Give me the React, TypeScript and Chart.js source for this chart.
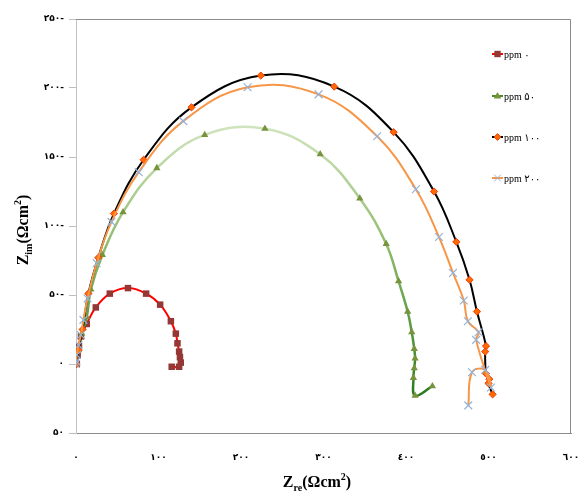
import { useEffect, useRef } from 'react';
import { Chart, registerables } from 'chart.js';

Chart.register(...registerables);

const seriesNames = ['ppm ۰', 'ppm ۵۰', 'ppm ۱۰۰', 'ppm ۲۰۰'];

const ppm0X = [1, 2, 3.6, 6, 13, 24, 41, 63, 85, 102, 115, 121, 123, 125, 126, 127, 125, 116];
const ppm0Y = [0, 6, 13, 20, 29, 41, 51, 55, 51, 43, 31, 22, 15, 9, 5, 1, -2, -2];

const ppm50X = [0.5, 3, 7, 13, 18, 32, 57, 98, 156, 229, 296, 344, 376, 391, 402, 407, 410, 411, 410, 409, 411, 432];
const ppm50Y = [0, 10, 22, 34, 54, 79, 110, 142, 166, 170.5, 152, 120, 87, 60, 38, 23, 11, 4, -3, -10, -23, -16];

const ppm100X = [0.5, 3, 8, 15, 27, 46, 82, 140, 224, 313, 385, 434, 461, 477, 486, 497, 496, 497, 501, 500, 505];
const ppm100Y = [0, 10, 25, 51, 77, 109, 148, 186, 209, 201, 168, 125, 88.5, 61, 38, 13, 9, -7, -11, -14, -22];

const ppm200X = [0, 0.5, 1, 3, 6, 9, 14, 25, 43, 76, 130, 208, 294, 365, 412, 440, 457, 470, 475, 488, 485, 503, 496, 480, 475.5];
const ppm200Y = [0, 2, 6.5, 13.7, 21, 32, 47.5, 73, 103, 139, 176, 200.5, 195.4, 165, 126.6, 92, 66, 46, 31, 23, 17.5, -17, -4.3, -6, -30];

const xTickLabels = ['۰', '۱۰۰', '۲۰۰', '۳۰۰', '٤٠٠', '٥٠٠', '٦٠٠'];
const yTickLabels = ['۵۰', '۰', '۵۰-', '۱۰۰-', '۱۵۰-', '۲۰۰-', '۲۵۰-'];

const xTitle = { main: 'Z', sub: 're', rest: '(Ωcm', sup: '2', end: ')' };
const yTitle = { main: 'Z', sub: 'im', rest: '(Ωcm', sup: '2', end: ')' };

const zip = (xs: number[], ys: number[]) => xs.map((x, i) => ({ x, y: ys[i] }));

type MarkerStyle = { style: string; r: number; fill: string; stroke: string; line: string };
const markers: MarkerStyle[] = [
  { style: 'rect', r: 3.2, fill: '#953735', stroke: '#953735', line: '#ff0000' },
  { style: 'triangle', r: 4, fill: '#77933c', stroke: '#77933c', line: '#4f8a2c' },
  { style: 'rectRot', r: 3.4, fill: '#ff6a00', stroke: '#f03c0c', line: '#000000' },
  { style: 'crossRot', r: 4.5, fill: '#95b3d7', stroke: '#95b3d7', line: '#f79646' },
];

function drawMarker(ctx: CanvasRenderingContext2D, m: MarkerStyle, x: number, y: number) {
  ctx.save();
  ctx.fillStyle = m.fill;
  ctx.strokeStyle = m.stroke;
  ctx.lineWidth = 1;
  ctx.beginPath();
  if (m.style === 'rect') {
    ctx.rect(x - m.r, y - m.r, 2 * m.r, 2 * m.r);
    ctx.fill();
  } else if (m.style === 'triangle') {
    ctx.moveTo(x, y - m.r);
    ctx.lineTo(x + m.r * 0.95, y + m.r * 0.6);
    ctx.lineTo(x - m.r * 0.95, y + m.r * 0.6);
    ctx.closePath();
    ctx.fill();
  } else if (m.style === 'rectRot') {
    ctx.moveTo(x, y - m.r);
    ctx.lineTo(x + m.r, y);
    ctx.lineTo(x, y + m.r);
    ctx.lineTo(x - m.r, y);
    ctx.closePath();
    ctx.fill();
    ctx.stroke();
  } else {
    const d = m.r * 0.75;
    ctx.moveTo(x - d, y - d);
    ctx.lineTo(x + d, y + d);
    ctx.moveTo(x + d, y - d);
    ctx.lineTo(x - d, y + d);
    ctx.stroke();
  }
  ctx.restore();
}

function drawRich(ctx: CanvasRenderingContext2D, t: typeof xTitle, cx: number, baseline: number) {
  const big = "bold 16px 'Liberation Serif', 'Times New Roman', serif";
  const small = "bold 10px 'Liberation Serif', 'Times New Roman', serif";
  const parts = [
    { s: t.main, f: big, dy: 0 },
    { s: t.sub, f: small, dy: 4 },
    { s: t.rest, f: big, dy: 0 },
    { s: t.sup, f: small, dy: -7 },
    { s: t.end, f: big, dy: 0 },
  ];
  let w = 0;
  for (const p of parts) {
    ctx.font = p.f;
    w += ctx.measureText(p.s).width;
  }
  let x = cx - w / 2;
  ctx.fillStyle = '#000';
  ctx.textBaseline = 'alphabetic';
  ctx.textAlign = 'left';
  for (const p of parts) {
    ctx.font = p.f;
    ctx.fillText(p.s, x, baseline + p.dy);
    x += ctx.measureText(p.s).width;
  }
}

const decorPlugin = {
  id: 'decor',
  afterDraw(chart: any) {
    const { ctx, chartArea } = chart;
    const { left, top, right, bottom } = chartArea;
    ctx.save();
    ctx.strokeStyle = '#8c8c8c';
    ctx.lineWidth = 1;
    ctx.beginPath();
    ctx.moveTo(left, top + 0.5);
    ctx.lineTo(right - 0.5, top + 0.5);
    ctx.lineTo(right - 0.5, bottom);
    ctx.stroke();

    const legendY = [54, 96, 137, 178];
    seriesNames.forEach((name, i) => {
      const y = legendY[i];
      const m = markers[i];
      ctx.strokeStyle = m.line;
      ctx.lineWidth = 2;
      ctx.beginPath();
      ctx.moveTo(492, y);
      ctx.lineTo(503, y);
      ctx.stroke();
      drawMarker(ctx, m, 497.5, y);
      ctx.fillStyle = '#000';
      ctx.font = "10px 'Liberation Serif', 'DejaVu Sans', serif";
      ctx.textAlign = 'left';
      ctx.textBaseline = 'middle';
      ctx.fillText(name, 504, y + 1);
    });

    drawRich(ctx, xTitle, 317, 487);
    ctx.save();
    ctx.translate(28, 230);
    ctx.rotate(-Math.PI / 2);
    drawRich(ctx, yTitle, 0, 0);
    ctx.restore();
    ctx.restore();
  },
};

export default function App() {
  const ref = useRef<HTMLCanvasElement | null>(null);

  useEffect(() => {
    if (!ref.current) return;
    const greenGradient = (c: any) => {
      const chart = c.chart;
      const ys = chart.scales && chart.scales.y;
      if (!chart.chartArea || !ys) return '#5f9a3a';
      const g = chart.ctx.createLinearGradient(
        0,
        ys.getPixelForValue(Math.max(...ppm50Y)),
        0,
        ys.getPixelForValue(Math.min(...ppm50Y))
      );
      g.addColorStop(0, '#cfe3bd');
      g.addColorStop(0.45, '#8dbb6a');
      g.addColorStop(1, '#2a7a1c');
      return g;
    };

    const chart = new Chart(ref.current, {
      type: 'scatter',
      data: {
        datasets: [
          {
            label: seriesNames[0],
            data: zip(ppm0X, ppm0Y),
            showLine: true,
            borderColor: '#ff0000',
            borderWidth: 2,
            tension: 0.4,
            pointStyle: 'rect',
            pointRadius: 4.6,
            pointBackgroundColor: '#953735',
            pointBorderColor: '#953735',
            pointBorderWidth: 0,
            order: 4,
          },
          {
            label: seriesNames[1],
            data: zip(ppm50X, ppm50Y),
            showLine: true,
            borderColor: greenGradient,
            borderWidth: 2.5,
            tension: 0.4,
            pointStyle: 'triangle',
            pointRadius: 4.2,
            pointBackgroundColor: '#77933c',
            pointBorderColor: '#77933c',
            pointBorderWidth: 0,
            order: 3,
          },
          {
            label: seriesNames[2],
            data: zip(ppm100X, ppm100Y),
            showLine: true,
            borderColor: '#000000',
            borderWidth: 2,
            tension: 0.4,
            pointStyle: 'rectRot',
            pointRadius: 3.6,
            pointBackgroundColor: '#ff6a00',
            pointBorderColor: '#f03c0c',
            pointBorderWidth: 1,
            order: 2,
          },
          {
            label: seriesNames[3],
            data: zip(ppm200X, ppm200Y),
            showLine: true,
            borderColor: '#f79646',
            borderWidth: 2,
            tension: 0.4,
            pointStyle: 'crossRot',
            pointRadius: 5.5,
            pointBackgroundColor: '#95b3d7',
            pointBorderColor: '#95b3d7',
            pointBorderWidth: 1.2,
            order: 1,
          },
        ],
      },
      options: {
        animation: false,
        responsive: false,
        events: [],
        layout: { padding: { top: 19, right: 10, left: 0, bottom: 0 } },
        plugins: {
          legend: { display: false },
          tooltip: { enabled: false },
          title: { display: false },
        },
        scales: {
          x: {
            type: 'linear',
            min: 0,
            max: 600,
            afterFit: (s: any) => {
              s.height = 59;
              s.paddingLeft = 0;
              s.paddingRight = 0;
            },
            afterBuildTicks: (s: any) => {
              s.ticks = xTickLabels.map((_, i) => ({ value: i * 100 }));
            },
            border: { display: true, color: '#8c8c8c', width: 1 },
            grid: { display: true, drawOnChartArea: false, drawTicks: false },
            ticks: {
              padding: 19,
              autoSkip: false,
              maxRotation: 0,
              color: '#000',
              font: { family: "'DejaVu Sans', sans-serif", size: 9, weight: 'bold' },
              callback: (_v: any, i: number) => xTickLabels[i],
            },
            title: { display: false },
          },
          y: {
            type: 'linear',
            min: -50,
            max: 250,
            afterFit: (s: any) => {
              s.width = 76;
              s.paddingTop = 0;
              s.paddingBottom = 0;
            },
            afterBuildTicks: (s: any) => {
              s.ticks = yTickLabels.map((_, i) => ({ value: -50 + i * 50 }));
            },
            border: { display: true, color: '#c4c4c4', width: 1 },
            grid: {
              display: true,
              drawOnChartArea: false,
              drawTicks: true,
              tickLength: 7,
              tickColor: '#bfbfbf',
            },
            ticks: {
              padding: 5,
              color: '#000',
              font: { family: "'DejaVu Sans', sans-serif", size: 9, weight: 'bold' },
              callback: (_v: any, i: number) => yTickLabels[i],
            },
            title: { display: false },
          },
        },
      },
      plugins: [decorPlugin],
    } as any);
    return () => chart.destroy();
  }, []);

  return (
    <div style={{ position: 'fixed', left: 0, top: 0, width: 581, height: 492, background: '#fff' }}>
      <canvas ref={ref} width={581} height={492} style={{ display: 'block' }} />
    </div>
  );
}
